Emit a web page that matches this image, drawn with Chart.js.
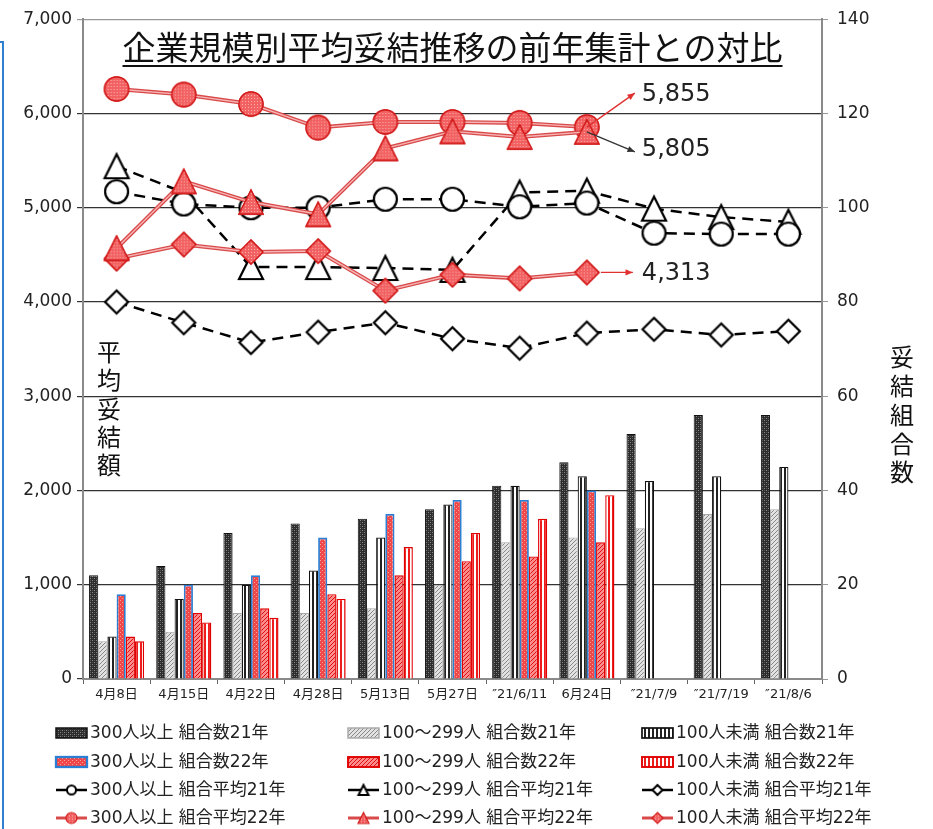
<!DOCTYPE html>
<html lang="ja">
<head>
<meta charset="utf-8">
<title>企業規模別平均妥結推移</title>
<script src="https://cdn.jsdelivr.net/npm/chart.js@4.4.1/dist/chart.umd.min.js"></script>
<style>
  html, body { margin: 0; padding: 0; background: #fff; }
  #wrap { width: 933px; height: 829px; position: relative; }
</style>
</head>
<body>
<div id="wrap"><canvas id="chart" width="933" height="829"></canvas></div>
<script>
// 日付ラベル
const labels = ['4月8日', '4月15日', '4月22日', '4月28日', '5月13日', '5月27日', '″21/6/11', '6月24日', '″21/7/9', '″21/7/19', '″21/8/6'];

// 妥結組合数（右軸）
const count300_21 = [22, 24, 31, 33, 34, 36, 41, 46, 52, 56, 56];
const count100_21 = [8, 10, 14, 14, 15, 20, 29, 30, 32, 35, 36];
const countU100_21 = [9, 17, 20, 23, 30, 37, 41, 43, 42, 43, 45];
const count300_22 = [18, 20, 22, 30, 35, 38, 38, 40, null, null, null];
const count100_22 = [9, 14, 15, 18, 22, 25, 26, 29, null, null, null];
const countU100_22 = [8, 12, 13, 17, 28, 31, 34, 39, null, null, null];

// 平均妥結額（左軸）
const avg300_21 = [5170, 5040, 5000, 5000, 5090, 5090, 5010, 5050, 4730, 4720, 4720];
const avg100_21 = [5440, 5160, 4370, 4370, 4360, 4340, 5160, 5180, 4990, 4900, 4850];
const avgU100_21 = [4000, 3780, 3570, 3680, 3780, 3610, 3510, 3670, 3710, 3650, 3690];
const avg300_22 = [6260, 6200, 6100, 5850, 5910, 5910, 5900, 5855, null, null, null];
const avg100_22 = [4570, 5280, 5060, 4930, 5630, 5810, 5750, 5805, null, null, null];
const avgU100_22 = [4460, 4610, 4530, 4540, 4120, 4290, 4250, 4313, null, null, null];

// 軸
const leftTicks = { min: 0, max: 7000, step: 1000 };
const rightTicks = { min: 0, max: 140, step: 20 };

const FONT = '"DejaVu Sans", "Noto Sans CJK JP", sans-serif';
const CJK = '"Noto Sans CJK JP", sans-serif';

// ---- パターン ----
function makePattern(w, h, draw) {
    const c = document.createElement('canvas');
    c.width = w; c.height = h;
    const g = c.getContext('2d');
    draw(g, w, h);
    return g.createPattern(c, 'repeat');
}

const patDark = makePattern(4, 4, (g) => {
    g.fillStyle = '#2c2c2c'; g.fillRect(0, 0, 4, 4);
    g.fillStyle = '#8a8a8a'; g.fillRect(0, 0, 1, 1); g.fillRect(2, 2, 1, 1);
    g.fillStyle = '#555'; g.fillRect(2, 0, 1, 1); g.fillRect(0, 2, 1, 1);
});
const patGrayDiag = makePattern(4, 4, (g) => {
    g.fillStyle = '#e2e2e2'; g.fillRect(0, 0, 4, 4);
    g.fillStyle = '#888';
    for (let i = 0; i < 4; i++) g.fillRect(3 - i, i, 1, 1);
});
const patVStripe = makePattern(4, 4, (g) => {
    g.fillStyle = '#fff'; g.fillRect(0, 0, 4, 4);
    g.fillStyle = '#222'; g.fillRect(0, 0, 2, 4);
});
const patRedDot = makePattern(4, 4, (g) => {
    g.fillStyle = '#f04848'; g.fillRect(0, 0, 4, 4);
    g.fillStyle = '#fba0a0'; g.fillRect(0, 0, 1, 1); g.fillRect(2, 2, 1, 1);
});
const patRedDiag = makePattern(4, 4, (g) => {
    g.fillStyle = '#ff8c8c'; g.fillRect(0, 0, 4, 4);
    g.fillStyle = '#e01010';
    for (let i = 0; i < 4; i++) g.fillRect(3 - i, i, 1, 1);
});
const patRedStripe = makePattern(4, 4, (g) => {
    g.fillStyle = '#fff'; g.fillRect(0, 0, 4, 4);
    g.fillStyle = '#ee1c1c'; g.fillRect(0, 0, 2, 4);
});
const patMarkerRed = makePattern(3, 3, (g) => {
    g.fillStyle = '#f26262'; g.fillRect(0, 0, 3, 3);
    g.fillStyle = '#fbb0b0'; g.fillRect(0, 0, 1, 1);
});

// ---- マーカー ----
function makeMarker(shape, size, fill, stroke, lw) {
    const pad = Math.ceil(lw) + 1;
    const c = document.createElement('canvas');
    c.width = size + pad * 2; c.height = size + pad * 2;
    const g = c.getContext('2d');
    const cx = c.width / 2, cy = c.height / 2, r = size / 2;
    g.beginPath();
    if (shape === 'circle') {
        g.arc(cx, cy, r, 0, Math.PI * 2);
    } else if (shape === 'triangle') {
        g.moveTo(cx, cy - r);
        g.lineTo(cx + r, cy + r);
        g.lineTo(cx - r, cy + r);
        g.closePath();
    } else {
        g.moveTo(cx, cy - r);
        g.lineTo(cx + r, cy);
        g.lineTo(cx, cy + r);
        g.lineTo(cx - r, cy);
        g.closePath();
    }
    g.fillStyle = fill; g.fill();
    g.lineWidth = lw; g.strokeStyle = stroke; g.stroke();
    return c;
}

const mk = {
    c21: makeMarker('circle', 23, '#fff', '#000', 2.2),
    t21: makeMarker('triangle', 24, '#fff', '#000', 2.2),
    d21: makeMarker('diamond', 23, '#fff', '#000', 2.2),
    c22: makeMarker('circle', 24, patMarkerRed, '#d21a1a', 1.4),
    t22: makeMarker('triangle', 24, patMarkerRed, '#d21a1a', 1.4),
    d22: makeMarker('diamond', 24, patMarkerRed, '#d21a1a', 1.4)
};
const mkSmall = {
    c21: makeMarker('circle', 9, '#fff', '#000', 2),
    t21: makeMarker('triangle', 10, '#fff', '#000', 2),
    d21: makeMarker('diamond', 10, '#fff', '#000', 2),
    c22: makeMarker('circle', 11, patMarkerRed, '#d21a1a', 1.2),
    t22: makeMarker('triangle', 11, patMarkerRed, '#d21a1a', 1.2),
    d22: makeMarker('diamond', 11, patMarkerRed, '#d21a1a', 1.2)
};

function barSet(label, data, bg, border, bw) {
    return { type: 'bar', label: label, data: data, yAxisID: 'y1', backgroundColor: bg,
        borderColor: border, borderWidth: bw, order: 10, categoryPercentage: 0.82, barPercentage: 1.0 };
}
function lineSet(label, data, marker, year, order) {
    const is22 = year === 22;
    return { type: 'line', label: label, data: data, yAxisID: 'y', order: order,
        borderColor: is22 ? '#d94a4a' : '#000',
        borderWidth: is22 ? 4 : 2.5,
        borderDash: is22 ? [] : [11, 7],
        doubleLine: is22,
        pointStyle: marker, pointRadius: 12, pointHoverRadius: 12,
        fill: false, tension: 0, spanGaps: false };
}

const datasets = [
    barSet('300人以上 組合数21年', count300_21, patDark, '#111', 1),
    barSet('100〜299人 組合数21年', count100_21, patGrayDiag, '#aaa', 1),
    barSet('100人未満 組合数21年', countU100_21, patVStripe, '#111', 1.2),
    barSet('300人以上 組合数22年', count300_22, patRedDot, '#2a7fd4', 1.8),
    barSet('100〜299人 組合数22年', count100_22, patRedDiag, '#e00000', 1.4),
    barSet('100人未満 組合数22年', countU100_22, patRedStripe, '#e00000', 1.4),
    lineSet('300人以上 組合平均21年', avg300_21, mk.c21, 21, 5),
    lineSet('100〜299人 組合平均21年', avg100_21, mk.t21, 21, 5),
    lineSet('100人未満 組合平均21年', avgU100_21, mk.d21, 21, 5),
    lineSet('300人以上 組合平均22年', avg300_22, mk.c22, 22, 2),
    lineSet('100〜299人 組合平均22年', avg100_22, mk.t22, 22, 0),
    lineSet('100人未満 組合平均22年', avgU100_22, mk.d22, 22, 1)
];

// 凡例（3列×4行）
const legendItems = [
    { text: '300人以上 組合数21年', kind: 'bar', ds: 0 },
    { text: '100〜299人 組合数21年', kind: 'bar', ds: 1 },
    { text: '100人未満 組合数21年', kind: 'bar', ds: 2 },
    { text: '300人以上 組合数22年', kind: 'bar', ds: 3 },
    { text: '100〜299人 組合数22年', kind: 'bar', ds: 4 },
    { text: '100人未満 組合数22年', kind: 'bar', ds: 5 },
    { text: '300人以上 組合平均21年', kind: 'line', ds: 6, m: 'c21' },
    { text: '100〜299人 組合平均21年', kind: 'line', ds: 7, m: 't21' },
    { text: '100人未満 組合平均21年', kind: 'line', ds: 8, m: 'd21' },
    { text: '300人以上 組合平均22年', kind: 'line', ds: 9, m: 'c22' },
    { text: '100〜299人 組合平均22年', kind: 'line', ds: 10, m: 't22' },
    { text: '100人未満 組合平均22年', kind: 'line', ds: 11, m: 'd22' }
];
const legendCols = [56, 348, 642];
const legendRows = [733, 762, 790, 818];

// 22年の線を二重線風にする
const doubleLinePlugin = {
    id: 'doubleLine',
    afterDatasetDraw(chart, args) {
        const ds = chart.data.datasets[args.index];
        if (!ds.doubleLine) return;
        const meta = args.meta;
        const g = chart.ctx;
        g.save();
        g.strokeStyle = '#f6b4b4';
        g.lineWidth = 1.4;
        g.beginPath();
        let started = false;
        meta.data.forEach(p => {
            if (p.skip) { started = false; return; }
            if (!started) { g.moveTo(p.x, p.y); started = true; } else g.lineTo(p.x, p.y);
        });
        g.stroke();
        g.restore();
        meta.data.forEach(p => { if (!p.skip) p.draw(g, chart.chartArea); });
    }
};

const decorPlugin = {
    id: 'decor',
    beforeDraw(chart) {
        const g = chart.ctx;
        g.save();
        g.fillStyle = '#fff';
        g.fillRect(0, 0, chart.width, chart.height);
        // 左端の青枠
        g.strokeStyle = '#2f80d0';
        g.lineWidth = 2;
        g.beginPath();
        g.moveTo(0, 42); g.lineTo(3, 42); g.lineTo(3, 829);
        g.stroke();
        g.restore();
    },
    afterDraw(chart) {
        const g = chart.ctx;
        const area = chart.chartArea;
        g.save();
        // タイトル
        const title = '企業規模別平均妥結推移の前年集計との対比';
        g.font = '33px ' + CJK;
        g.fillStyle = '#111';
        g.textAlign = 'center';
        g.textBaseline = 'middle';
        const tx = (area.left + area.right) / 2;
        g.fillText(title, tx, 47);
        const tw = g.measureText(title).width;
        g.strokeStyle = '#111';
        g.lineWidth = 2;
        g.beginPath();
        g.moveTo(tx - tw / 2, 66); g.lineTo(tx + tw / 2, 66);
        g.stroke();

        // 軸タイトル（縦書き）
        g.font = '24px ' + CJK;
        g.fillStyle = '#111';
        '平均妥結額'.split('').forEach((ch, i) => g.fillText(ch, 109, 352 + i * 28.3));
        '妥結組合数'.split('').forEach((ch, i) => g.fillText(ch, 902, 357 + i * 28.8));

        // 最終値の注記
        const xs = chart.scales.x, ys = chart.scales.y;
        const last = 7;
        const px = xs.getPixelForValue(last);
        const notes = [
            { v: avg300_22[last], color: '#e03030', dx: 48, dy: -34, text: '5,855', ty: -32 },
            { v: avg100_22[last], color: '#333', dx: 48, dy: 20, text: '5,805', ty: 18 },
            { v: avgU100_22[last], color: '#e03030', dx: 46, dy: 0, text: '4,313', ty: 1, sx: 14 }
        ];
        notes.forEach(n => {
            const py = ys.getPixelForValue(n.v);
            const sx = px + (n.sx || 0), sy = py;
            const ex = px + n.dx, ey = py + n.dy;
            g.strokeStyle = n.color; g.fillStyle = n.color; g.lineWidth = 1.3;
            g.beginPath(); g.moveTo(sx, sy); g.lineTo(ex, ey); g.stroke();
            const a = Math.atan2(ey - sy, ex - sx);
            g.beginPath();
            g.moveTo(ex, ey);
            g.lineTo(ex - 8 * Math.cos(a - 0.4), ey - 8 * Math.sin(a - 0.4));
            g.lineTo(ex - 8 * Math.cos(a + 0.4), ey - 8 * Math.sin(a + 0.4));
            g.closePath(); g.fill();
            g.font = '24px ' + FONT;
            g.fillStyle = '#222';
            g.textAlign = 'left';
            g.fillText(n.text, px + 55, py + n.ty);
        });

        // 凡例
        g.font = '17px ' + FONT;
        g.textBaseline = 'middle';
        legendItems.forEach((it, i) => {
            const x = legendCols[i % 3], y = legendRows[Math.floor(i / 3)];
            const ds = chart.data.datasets[it.ds];
            if (it.kind === 'bar') {
                g.fillStyle = ds.backgroundColor;
                g.fillRect(x, y - 5, 31, 10);
                g.strokeStyle = ds.borderColor;
                g.lineWidth = ds.borderWidth + 0.5;
                g.strokeRect(x, y - 5, 31, 10);
            } else {
                g.strokeStyle = ds.borderColor;
                g.lineWidth = ds.doubleLine ? 3 : ds.borderWidth;
                g.setLineDash([]);
                g.beginPath(); g.moveTo(x, y); g.lineTo(x + 31, y); g.stroke();
                const img = mkSmall[it.m];
                g.drawImage(img, x + 15.5 - img.width / 2, y - img.height / 2);
            }
            g.fillStyle = '#222';
            g.textAlign = 'left';
            g.fillText(it.text, x + 34, y + 1);
        });
        g.restore();
    }
};

new Chart(document.getElementById('chart'), {
    type: 'bar',
    data: { labels: labels, datasets: datasets },
    plugins: [doubleLinePlugin, decorPlugin],
    options: {
        responsive: false,
        animation: false,
        events: [],
        layout: { padding: { top: 15, left: 0, right: 0, bottom: 0 } },
        font: { family: FONT },
        plugins: {
            legend: { display: false },
            title: { display: false },
            tooltip: { enabled: false }
        },
        scales: {
            x: {
                grid: { offset: true, drawOnChartArea: false, tickLength: 5, color: '#666' },
                border: { color: '#8a8a8a', width: 2 },
                ticks: { font: { size: 13, family: FONT }, color: '#222', maxRotation: 0, autoSkip: false, padding: 3 },
                afterFit(s) { s.height = 150; }
            },
            y: {
                position: 'left',
                min: leftTicks.min, max: leftTicks.max,
                ticks: {
                    stepSize: leftTicks.step,
                    callback: v => v.toLocaleString('en-US'),
                    font: { size: 17, family: FONT }, color: '#222', padding: 5
                },
                grid: {
                    color: c => (c.tick && c.tick.value === leftTicks.max) ? '#999' : '#333',
                    lineWidth: 1.2, tickLength: 6
                },
                border: { color: '#8a8a8a', width: 2 },
                afterFit(s) { s.width = 83; }
            },
            y1: {
                position: 'right',
                min: rightTicks.min, max: rightTicks.max,
                ticks: { stepSize: rightTicks.step, font: { size: 17, family: FONT }, color: '#222', padding: 9 },
                grid: { drawOnChartArea: false, tickLength: 6, color: '#999' },
                border: { color: '#8a8a8a', width: 2 },
                afterFit(s) { s.width = 111; }
            }
        }
    }
});
</script>
</body>
</html>
